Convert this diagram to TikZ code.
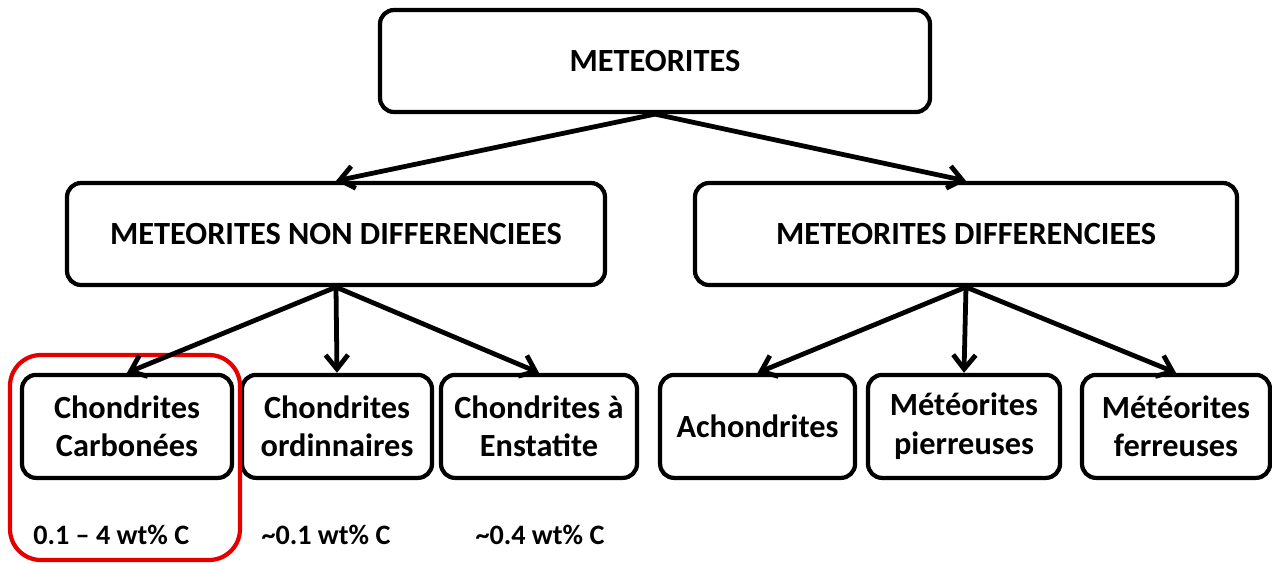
\documentclass[tikz,border=0pt]{standalone}
\usepackage{fontspec}
\setmainfont{Carlito}
\usetikzlibrary{arrows.meta}

\begin{document}
\begin{tikzpicture}[
    box/.style={draw, line width=3pt, rounded corners=10pt, align=center,
                inner sep=0pt, minimum height=2.55cm, font=\fontsize{23}{27.5}\selectfont\bfseries},
    arr/.style={line width=3.4pt, -{Straight Barb[length=10pt,width=16pt]}},
    note/.style={font=\fontsize{20}{24}\selectfont\bfseries}
]
    \useasboundingbox (0,0) rectangle (31.8,-14.075);

    % Top level
    \node[box, minimum width=13.75cm] (meteo) at (16.375,-1.525) {METEORITES};

    % Second level
    \node[box, minimum width=13.45cm] (nondiff) at (8.4,-5.85) {METEORITES NON DIFFERENCIEES};
    \node[box, minimum width=13.55cm] (diff) at (24.15,-5.85) {METEORITES DIFFERENCIEES};

    % Chondrites
    \node[box, minimum width=5.25cm, minimum height=2.575cm] (carbo) at (3.175,-10.66) {Chondrites\\Carbonées};
    \node[box, minimum width=4.75cm, minimum height=2.575cm] (ordin) at (8.425,-10.66) {Chondrites\\ordinnaires};
    \node[box, minimum width=4.9cm, minimum height=2.575cm] (enst) at (13.475,-10.66) {Chondrites à\\Enstatite};

    % Differentiated
    \node[box, minimum width=4.875cm, minimum height=2.575cm] (achon) at (18.94,-10.66) {Achondrites};
    \node[box, minimum width=4.8cm, minimum height=2.575cm] (pierre) at (24.1,-10.66) {Météorites\\pierreuses};
    \node[box, minimum width=4.7cm, minimum height=2.575cm] (ferre) at (29.4,-10.66) {Météorites\\ferreuses};

    % Carbon contents
    \node[note] (ccarbo) at (2.78,-13.375) {0.1 – 4 wt\% C};
    \node[note] (cordin) at (8.15,-13.375) {\char`~0.1 wt\% C};
    \node[note] (censt) at (13.5,-13.375) {\char`~0.4 wt\% C};

    % Highlight
    \draw[red!90!black, line width=3pt, rounded corners=22pt] (0.25,-8.875) rectangle (6.0,-14.0);

    % Arrows
    \draw[arr] (meteo.south) -- (nondiff.north);
    \draw[arr] (meteo.south) -- (diff.north);
    \draw[arr] (nondiff.south) -- (carbo.north);
    \draw[arr] (nondiff.south) -- (ordin.north);
    \draw[arr] (nondiff.south) -- (enst.north);
    \draw[arr] (diff.south) -- (achon.north);
    \draw[arr] (diff.south) -- (pierre.north);
    \draw[arr] (diff.south) -- (ferre.north);
\end{tikzpicture}
\end{document}
